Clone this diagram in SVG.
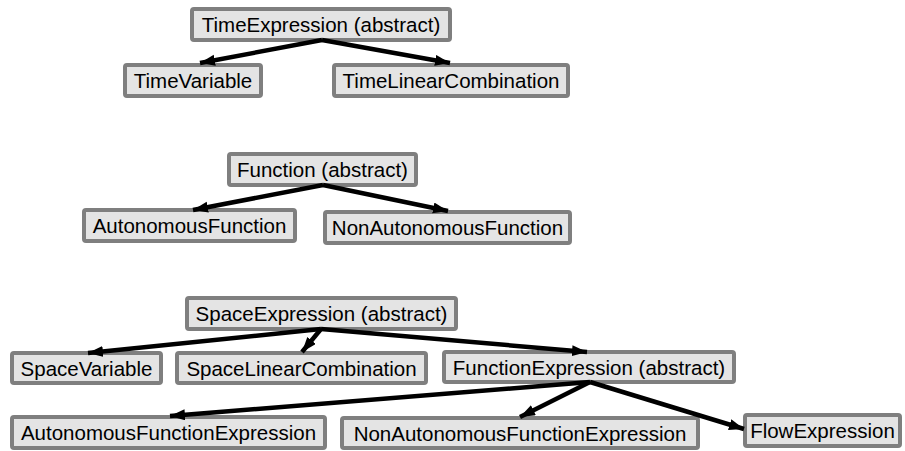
<svg xmlns="http://www.w3.org/2000/svg" width="905" height="451" viewBox="0 0 905 451">
<defs>
<style>
.box rect{fill:#e4e4e4;stroke:#7f7f7f;stroke-width:4}
.box text{font-family:"Liberation Sans",Arial,sans-serif;font-size:20.5px;fill:#000;text-anchor:middle}
.edges line{stroke:#000;stroke-width:4.5;marker-end:url(#ah)}
</style>
<marker id="ah" markerUnits="userSpaceOnUse" markerWidth="18" markerHeight="12" refX="15" refY="5.5" orient="auto">
<path d="M0,0 L15,5.5 L0,11 z" fill="#000"/>
</marker>
</defs>
<rect width="905" height="451" fill="#fff"/>
<g id="TimeExpression" class="box"><rect x="192" y="9" width="258" height="31" rx="2"/><text x="321" y="32">TimeExpression (abstract)</text></g>
<g id="TimeVariable" class="box"><rect x="125" y="65" width="136" height="31" rx="2"/><text x="193" y="88">TimeVariable</text></g>
<g id="TimeLinearCombination" class="box"><rect x="334" y="65" width="234" height="31" rx="2"/><text x="451" y="88">TimeLinearCombination</text></g>
<g id="Function" class="box"><rect x="229" y="154" width="187" height="31" rx="2"/><text x="322.5" y="177">Function (abstract)</text></g>
<g id="AutonomousFunction" class="box"><rect x="84" y="210" width="211" height="31" rx="2"/><text x="189.5" y="233">AutonomousFunction</text></g>
<g id="NonAutonomousFunction" class="box"><rect x="325" y="212" width="245" height="31" rx="2"/><text x="447.5" y="235">NonAutonomousFunction</text></g>
<g id="SpaceExpression" class="box"><rect x="187" y="298" width="269" height="31" rx="2"/><text x="321.5" y="321">SpaceExpression (abstract)</text></g>
<g id="SpaceVariable" class="box"><rect x="12" y="353" width="149" height="30" rx="2"/><text x="86.5" y="375.5">SpaceVariable</text></g>
<g id="SpaceLinearCombination" class="box"><rect x="177" y="353" width="249" height="30" rx="2"/><text x="301.5" y="375.5">SpaceLinearCombination</text></g>
<g id="FunctionExpression" class="box"><rect x="444" y="352" width="290" height="30" rx="2"/><text x="589" y="374.5">FunctionExpression (abstract)</text></g>
<g id="AutonomousFunctionExpression" class="box"><rect x="12" y="417" width="313" height="31" rx="2"/><text x="168.5" y="440">AutonomousFunctionExpression</text></g>
<g id="NonAutonomousFunctionExpression" class="box"><rect x="342" y="418" width="356" height="30" rx="2"/><text x="520" y="440.5">NonAutonomousFunctionExpression</text></g>
<g id="FlowExpression" class="box"><rect x="745" y="415" width="155" height="31" rx="2"/><text x="822.5" y="438">FlowExpression</text></g>
<g id="connectors" class="edges">
<line x1="322" y1="40" x2="200" y2="63"/>
<line x1="322" y1="40" x2="450" y2="63"/>
<line x1="323" y1="185" x2="193" y2="210"/>
<line x1="323" y1="185" x2="448" y2="211"/>
<line x1="321" y1="329" x2="88" y2="353"/>
<line x1="321" y1="329" x2="302" y2="352"/>
<line x1="321" y1="329" x2="587" y2="352"/>
<line x1="590" y1="382" x2="170" y2="416"/>
<line x1="590" y1="382" x2="520" y2="417"/>
<line x1="590" y1="382" x2="744" y2="429"/>
</g>
</svg>
